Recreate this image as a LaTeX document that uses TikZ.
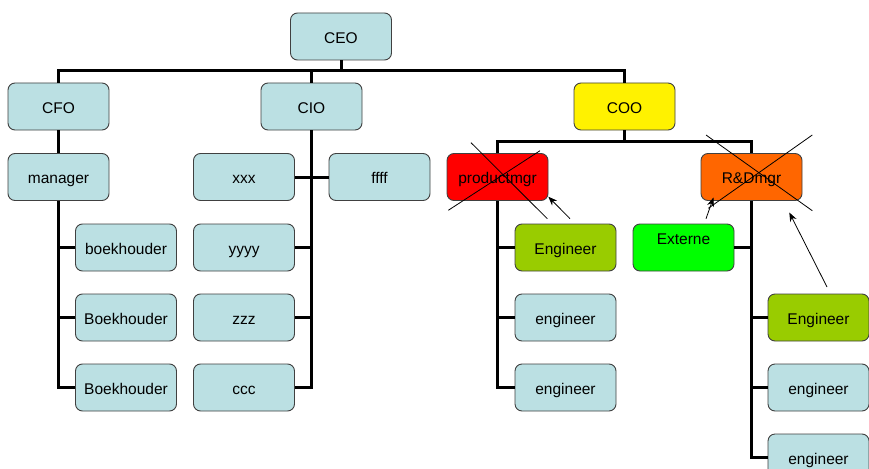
\documentclass[tikz,border=0pt]{standalone}
\usepackage{fontspec}
\setmainfont{Liberation Sans}
\usetikzlibrary{arrows.meta}
\definecolor{lblue}{HTML}{BBE0E3}
\definecolor{olive}{HTML}{99CC00}
\definecolor{orng}{HTML}{FF6600}
\definecolor{brgreen}{HTML}{00FF00}
\definecolor{bordergray}{HTML}{404040}
\tikzset{
  boxtext/.style={font=\fontsize{15.5}{18}\selectfont, text height=15pt, text depth=1.4pt, inner sep=0pt},
  box/.style={boxtext, draw=bordergray, line width=0.9pt, rounded corners=7pt, fill=lblue,
    minimum width=101pt, minimum height=47pt},
  conn/.style={line width=3pt, line join=miter},
  crossline/.style={line width=0.8pt},
  note/.style={line width=0.8pt, -{Stealth[length=9pt,width=7pt]}}
}
\begin{document}
\begin{tikzpicture}[x=1pt,y=-1pt]
\clip (0,0) rectangle (869,468);
\fill[white] (0,0) rectangle (869,468);
% nodes
\node[box] (ceo) at (341,36.5) {CEO};
\node[box] (cfo) at (58.5,106.5) {CFO};
\node[box] (cio) at (311.5,106.5) {CIO};
\node[box, fill=yellow] (coo) at (624.5,106.5) {COO};
\node[box] (man) at (58.5,177) {manager};
\node[box] (bk1) at (126,247.5) {boekhouder};
\node[box] (bk2) at (126,317.5) {Boekhouder};
\node[box] (bk3) at (126,387.5) {Boekhouder};
\node[box] (xxx) at (244,177) {xxx};
\node[box] (ffff) at (379.5,177) {ffff};
\node[box] (yyyy) at (244,247.5) {yyyy};
\node[box] (zzz) at (244,317.5) {zzz};
\node[box] (ccc) at (244,387.5) {ccc};
\node[box, fill=red] (pm) at (497.5,177) {productmgr};
\node[box, fill=olive] (pe1) at (565.5,247.5) {Engineer};
\node[box] (pe2) at (565.5,317.5) {engineer};
\node[box] (pe3) at (565.5,387.5) {engineer};
\node[box, fill=orng] (rd) at (751.5,177) {R\&Dmgr};
\node[box, fill=brgreen, label={[boxtext, yshift=10.3pt]center:Externe}] (ext) at (683.5,247.5) {};
\node[box, fill=olive] (re1) at (818.5,317.5) {Engineer};
\node[box] (re2) at (818.5,387.5) {engineer};
\node[box] (re3) at (818.5,457.5) {engineer};
% top level connectors
\coordinate (b0) at (341,71);
\draw[conn] (ceo) -- (b0);
\draw[conn] (cfo.north) |- (b0) -| (coo.north);
\draw[conn] (cio.north) -- (cio.north |- b0);
% CFO subtree
\draw[conn] (cfo) -- (man);
\draw[conn] (man) -- (man |- bk3) -- (bk3);
\draw[conn] (bk1) -- (bk1 -| man);
\draw[conn] (bk2) -- (bk2 -| man);
% CIO subtree
\draw[conn] (cio) -- (cio |- ccc) -- (ccc);
\draw[conn] (xxx) -- (ffff);
\draw[conn] (yyyy) -- (yyyy -| cio);
\draw[conn] (zzz) -- (zzz -| cio);
% COO subtree
\coordinate (b1) at (624.5,141);
\draw[conn] (coo) -- (b1);
\draw[conn] (pm.north) |- (b1) -| (rd.north);
\draw[conn] (pm) -- (pm |- pe3) -- (pe3);
\draw[conn] (pe1) -- (pe1 -| pm);
\draw[conn] (pe2) -- (pe2 -| pm);
\draw[conn] (rd) -- (rd |- re3) -- (re3);
\draw[conn] (ext) -- (ext -| rd);
\draw[conn] (re1) -- (re1 -| rd);
\draw[conn] (re2) -- (re2 -| rd);
% crosses
\draw[crossline] (471,142.7) -- (547.3,218.7);
\draw[crossline] (448.3,210.3) -- (540,150.7);
\draw[crossline] (706,135) -- (812.3,210.7);
\draw[crossline] (812.3,135) -- (708.3,208.3);
% arrows
\coordinate (a1s) at (570,218.7);
\coordinate (a1e) at (548.3,196.7);
\coordinate (a2s) at (706,218.7);
\coordinate (a2e) at (713.5,197.5);
\coordinate (a3s) at (827,287);
\coordinate (a3e) at (789.3,212.5);
\draw[note] (a1s) -- (a1e);
\draw[note] (a2s) -- (a2e);
\draw[note] (a3s) -- (a3e);
\end{tikzpicture}
\end{document}
